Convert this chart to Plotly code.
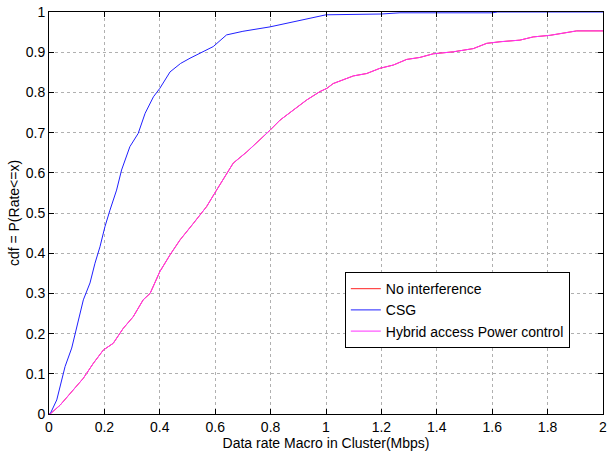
import plotly.graph_objects as go

# CSG curve
csg_x = [0, 0.004, 0.028, 0.058, 0.082, 0.10, 0.124, 0.148, 0.166, 0.184, 0.202, 0.22, 0.244, 0.262,
         0.292, 0.322, 0.347, 0.377, 0.40, 0.437, 0.475, 0.509, 0.55, 0.593, 0.641, 0.70, 0.798, 0.906,
         1.0, 1.2, 1.267, 1.6, 1.62, 2.0]
csg_y = [0, 0.0, 0.035, 0.118, 0.164, 0.217, 0.284, 0.326, 0.375, 0.416, 0.466, 0.507, 0.557, 0.607,
         0.665, 0.698, 0.748, 0.789, 0.810, 0.851, 0.872, 0.885, 0.900, 0.914, 0.943, 0.952, 0.963, 0.980,
         0.993, 0.995, 0.998, 0.998, 1.0, 1.0]

# No interference / Hybrid access curve
ni_x = [0, 0.004, 0.04, 0.088, 0.124, 0.16, 0.196, 0.232, 0.268, 0.304, 0.34, 0.365, 0.40, 0.437,
        0.473, 0.521, 0.569, 0.605, 0.665, 0.714, 0.762, 0.798, 0.834, 0.882, 0.93, 0.978, 1.003,
        1.026, 1.099, 1.147, 1.195, 1.243, 1.291, 1.339, 1.387, 1.46, 1.532, 1.58, 1.628, 1.70,
        1.748, 1.809, 1.869, 1.905, 2.0]
ni_y = [0, 0.0, 0.022, 0.06, 0.089, 0.126, 0.159, 0.176, 0.213, 0.242, 0.284, 0.30, 0.354, 0.396,
        0.433, 0.474, 0.516, 0.557, 0.624, 0.652, 0.682, 0.706, 0.731, 0.756, 0.781, 0.802, 0.810,
        0.822, 0.841, 0.847, 0.860, 0.868, 0.882, 0.887, 0.896, 0.901, 0.909, 0.922, 0.926, 0.930,
        0.938, 0.942, 0.949, 0.953, 0.953]
hy_x = ni_x
hy_y = ni_y

x_ticks = [0, 0.2, 0.4, 0.6, 0.8, 1, 1.2, 1.4, 1.6, 1.8, 2]
x_tick_text = ["0", "0.2", "0.4", "0.6", "0.8", "1", "1.2", "1.4", "1.6", "1.8", "2"]
y_ticks = [0, 0.1, 0.2, 0.3, 0.4, 0.5, 0.6, 0.7, 0.8, 0.9, 1]
y_tick_text = ["0", "0.1", "0.2", "0.3", "0.4", "0.5", "0.6", "0.7", "0.8", "0.9", "1"]

fig = go.Figure()
fig.add_trace(go.Scatter(x=ni_x, y=ni_y, mode="lines", name="No interference",
                         line=dict(color="#ff2020", width=1)))
fig.add_trace(go.Scatter(x=csg_x, y=csg_y, mode="lines", name="CSG",
                         line=dict(color="#2020ff", width=1)))
fig.add_trace(go.Scatter(x=hy_x, y=hy_y, mode="lines", name="Hybrid access Power control",
                         line=dict(color="#ff30ff", width=1)))

font_family = "Liberation Sans, Arial, sans-serif"
axis_common = dict(showline=True, linecolor="black", linewidth=1, mirror="ticks",
                   ticks="inside", ticklen=5, tickcolor="black", automargin=False,
                   showgrid=True, gridcolor="#b0b0b0", griddash="dot", gridwidth=1,
                   zeroline=False, tickfont=dict(size=14, color="black", family=font_family))

fig.update_xaxes(range=[0, 2], tickvals=x_ticks, ticktext=x_tick_text,
                 title=dict(text="Data rate Macro in Cluster(Mbps)", font=dict(size=14, color="black", family=font_family), standoff=0),
                 **axis_common)
fig.update_yaxes(range=[0, 1], tickvals=y_ticks, ticktext=y_tick_text,
                 title=dict(text="cdf = P(Rate<=x)", font=dict(size=14, color="black", family=font_family), standoff=2),
                 **axis_common)

fig.update_layout(
    width=608, height=452,
    margin=dict(l=49, r=5, t=12, b=38),
    paper_bgcolor="white", plot_bgcolor="white",
    font=dict(family=font_family, color="black"),
    showlegend=True,
    legend=dict(x=0.534, y=0.353, xanchor="left", yanchor="top",
                bgcolor="white", bordercolor="black", borderwidth=1,
                font=dict(size=14, color="black", family=font_family),
                tracegroupgap=0),
)

fig.write_html("out.html", config={"displayModeBar": False},
               post_script="document.body.style.margin='0';document.body.style.padding='0';document.body.style.overflow='hidden';")
